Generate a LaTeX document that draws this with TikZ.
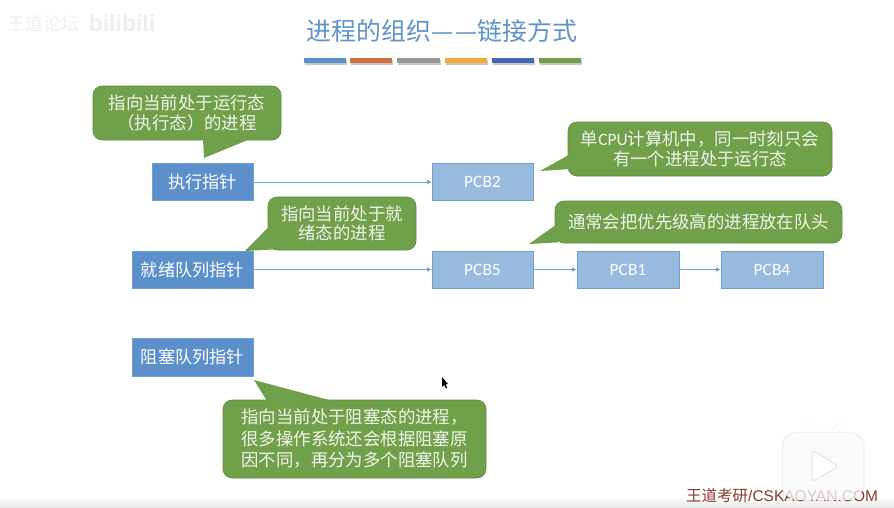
\documentclass[tikz,border=0pt]{standalone}
\usepackage{fontspec}
\setmainfont{Carlito}
\newfontfamily\cjk{Noto Sans CJK SC}
\newfontfamily\ftr{Liberation Sans}
\usetikzlibrary{arrows.meta}
\definecolor{grn}{HTML}{71A04B}
\definecolor{grnd}{HTML}{5F8A3E}
\definecolor{blu}{HTML}{5B90CB}
\definecolor{lblu}{HTML}{98BADF}
\definecolor{edge}{HTML}{6F9FD2}
\definecolor{ttl}{HTML}{5F93C9}
\definecolor{txtw}{HTML}{F0F4EC}
\definecolor{ftrc}{HTML}{8A3B2A}
\tikzset{
  x=1pt,y=-1pt,
  ptr/.style={draw=edge,line width=0.6pt,fill=blu,inner sep=0pt,text=white,font=\cjk\fontsize{17.2}{19}\selectfont,minimum height=37pt},
  pcb/.style={draw=edge,line width=0.6pt,fill=lblu,inner sep=0pt,text=white,font=\fontsize{17.4}{19}\selectfont,minimum height=37pt},
  note/.style={draw=grnd,line width=0.6pt,fill=grn,rounded corners=9pt,inner sep=0pt,text=txtw,align=center,font=\cjk\fontsize{17.4}{19.5}\selectfont},
  tail/.style={fill=grn,draw=none},
  link/.style={draw=edge,line width=0.7pt,-{Latex[length=4.5pt,width=4.5pt]}},
}
\begin{document}
\begin{tikzpicture}
\useasboundingbox (0,0) rectangle (894,507);
\fill[white] (0,0) rectangle (894,507);
% bottom band
\shade[top color=white,bottom color=black!9,draw=none] (0,497) rectangle (894,507);
% watermark
\node[text=black!6,inner sep=0pt,font=\cjk\fontsize{18}{20}\selectfont] (wm) at (43,24) {王道论坛};
\node[text=black!7,inner sep=0pt,font=\ftr\bfseries\fontsize{23}{24}\selectfont] (wmb) at (122,23) {bilibili};
% title
\node[text=ttl,inner sep=0pt,font=\cjk\fontsize{24.9}{28}\selectfont] (title) at (442,31) {进程的组织—\kern1.5pt—链接方式};
% bars with shadow
\foreach \a/\b/\c in {304/346/5B90CB,350/392/D0703F,397/440/979797,445/487/EEAD3A,492/534/4069B0,539/581/70A04A}{
  \definecolor{barc}{HTML}{\c}
  \fill[black!22] (\a+1,60) rectangle (\b+1,64.5);
  \fill[barc] (\a,58) rectangle (\b,62.5);
}
% pointer boxes
\node[ptr,minimum width=101pt] (exec) at (202.5,182) {执行指针};
\node[ptr,minimum width=121pt] (ready) at (192.5,269.5) {就绪队列指针};
\node[ptr,minimum width=121pt,minimum height=38pt] (block) at (192.5,357) {阻塞队列指针};
% PCB boxes
\node[pcb,minimum width=101pt] (p2) at (482.5,182) {PCB2};
\node[pcb,minimum width=101pt] (p5) at (482.5,269.5) {PCB5};
\node[pcb,minimum width=102pt] (p1) at (628,269.5) {PCB1};
\node[pcb,minimum width=102pt] (p4) at (772,269.5) {PCB4};
% links
\draw[link] (exec) -- (p2);
\draw[link] (ready) -- (p5);
\draw[link] (p5) -- (p1);
\draw[link] (p1) -- (p4);
% callouts
\node[note,minimum width=188pt,minimum height=54pt] (na) at (187,113) {指向当前处于运行态\\（执行态）的进程};
\node[note,minimum width=148pt,minimum height=53pt] (nb) at (342,223.5) {指向当前处于就\\绪态的进程};
\node[note,minimum width=263pt,minimum height=78pt,font=\cjk\fontsize{17.4}{21.5}\selectfont] (nc) at (354.5,439) {指向当前处于阻塞态的进程，\\很多操作系统还会根据阻塞原\\因不同，再分为多个阻塞队列};
\node[note,minimum width=264pt,minimum height=54pt] (nd) at (700,149) {单{\fontspec{Carlito}CPU}计算机中，同一时刻只会\\有一个进程处于运行态};
\node[note,minimum width=287pt,minimum height=42pt] (ne) at (698.5,222) {通常会把优先级高的进程放在队头};
% callout tails
\fill[tail] (203,139) -- (204,158) -- (249,139.5) -- cycle;
\fill[tail] (268.6,227) -- (245,251) -- (272,249.5) -- (272,230) -- cycle;
\fill[tail] (267,401) -- (254,380) -- (331,400.5) -- cycle;
\fill[tail] (568.6,155) -- (540,171) -- (571,169) -- (571,155) -- cycle;
\fill[tail] (555.6,225) -- (529,244) -- (558,242.4) -- (558,225) -- cycle;
% cursor
\fill[black] (442,377) -- (442,387) -- (444.2,385) -- (446,388.5) -- (447.2,387.8) -- (445.6,384.4) -- (448,384) -- cycle;
% footer
\node[text=ftrc,inner sep=0pt,anchor=west,font=\fontsize{15.5}{16}\selectfont] (ft) at (686,496) {{\cjk 王道考研}{\ftr /CSKAOYAN.COM}};
% TV icon
\draw[line width=7pt,line cap=round,black!6] (807,426) -- (815,434);
\draw[line width=7pt,line cap=round,black!6] (841,426) -- (832,434);
\draw[line width=6pt,line cap=round,white] (807,426) -- (815,434);
\draw[line width=6pt,line cap=round,white] (841,426) -- (832,434);
\fill[black,opacity=0.06,rounded corners=14pt] (781.5,432) rectangle (864.5,501.5);
\fill[white,opacity=0.72,rounded corners=14pt] (783,433) rectangle (863,500);
\draw[black!14,line width=0.8pt,fill=white,rounded corners=4pt,line join=round] (812,450) -- (839,466) -- (812,482) -- cycle;
\end{tikzpicture}
\end{document}
